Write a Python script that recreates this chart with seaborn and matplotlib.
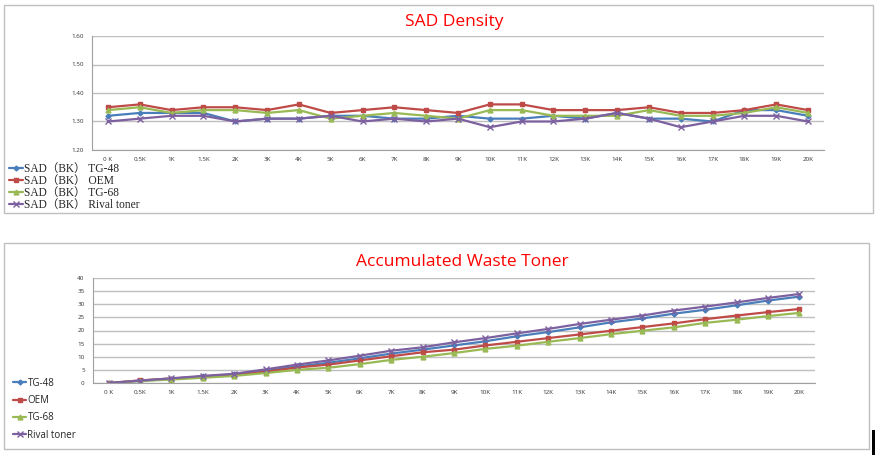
import numpy as np
import pandas as pd
import seaborn as sns
import matplotlib.pyplot as plt
from matplotlib.patches import Rectangle
from matplotlib.ticker import FixedLocator
from matplotlib.font_manager import FontProperties

# Data
pages = ["0 K", "0.5K", "1K", "1.5K", "2K", "3K", "4K", "5K", "6K", "7K", "8K", "9K",
         "10K", "11K", "12K", "13K", "14K", "15K", "16K", "17K", "18K", "19K", "20K"]

sad_tg48 = [1.32, 1.33, 1.33, 1.33, 1.30, 1.31, 1.31, 1.32, 1.32, 1.31, 1.31, 1.32,
            1.31, 1.31, 1.32, 1.31, 1.33, 1.31, 1.31, 1.30, 1.34, 1.34, 1.32]
sad_oem = [1.35, 1.36, 1.34, 1.35, 1.35, 1.34, 1.36, 1.33, 1.34, 1.35, 1.34, 1.33,
           1.36, 1.36, 1.34, 1.34, 1.34, 1.35, 1.33, 1.33, 1.34, 1.36, 1.34]
sad_tg68 = [1.34, 1.35, 1.33, 1.34, 1.34, 1.33, 1.34, 1.31, 1.32, 1.33, 1.32, 1.31,
            1.34, 1.34, 1.32, 1.32, 1.32, 1.34, 1.32, 1.32, 1.33, 1.35, 1.33]
sad_rival = [1.30, 1.31, 1.32, 1.32, 1.30, 1.31, 1.31, 1.32, 1.30, 1.31, 1.30, 1.31,
             1.28, 1.30, 1.30, 1.31, 1.33, 1.31, 1.28, 1.30, 1.32, 1.32, 1.30]

waste_tg48 = [0, 0.8, 1.6, 2.5, 3.3, 4.6, 6.3, 7.7, 9.4, 11.2, 12.7, 14.3,
              15.9, 17.8, 19.4, 21.2, 23.1, 24.6, 26.4, 27.9, 29.6, 31.4, 32.9]
waste_oem = [0, 1.0, 1.7, 2.4, 3.2, 4.3, 5.9, 7.0, 8.6, 10.2, 11.7, 12.7,
             14.3, 15.7, 17.1, 18.5, 19.9, 21.3, 22.7, 24.3, 25.7, 27.0, 28.2]
waste_tg68 = [0, 0.8, 1.3, 2.0, 2.7, 3.8, 5.0, 5.8, 7.2, 8.8, 10.0, 11.4,
              13.0, 14.2, 15.7, 17.1, 18.6, 19.9, 21.2, 22.9, 24.1, 25.5, 26.7]
waste_rival = [0, 0.9, 1.8, 2.7, 3.5, 5.2, 7.0, 8.6, 10.4, 12.3, 13.6, 15.5,
               17.1, 18.9, 20.6, 22.5, 24.1, 25.7, 27.6, 29.1, 30.7, 32.4, 33.9]

sad_labels = ["SAD（BK） TG-48", "SAD（BK） OEM", "SAD（BK） TG-68", "SAD（BK） Rival toner"]
waste_labels = ["TG-48", "OEM", "TG-68", "Rival toner"]

colors = ["#4A7EBB", "#BE4B48", "#98B954", "#7D60A0"]
markers = ["D", "s", "^", "x"]
msizes = [2.5, 3.5, 3.5, 4]

sns.set_style("white")
plt.rcParams['font.family'] = ['Open Sans', 'DejaVu Sans']

fig = plt.figure(figsize=(8.76, 4.55), dpi=100)

# chart frames
fig.patches.append(Rectangle((4 / 876, 1 - 213 / 455), 869 / 876, 208 / 455,
                             transform=fig.transFigure, fill=False, ec="#BFBFBF", lw=1))
fig.patches.append(Rectangle((4 / 876, 1 - 449 / 455), 865 / 876, 206 / 455,
                             transform=fig.transFigure, fill=False, ec="#BFBFBF", lw=1))
# dark edge at the bottom right of the screenshot
fig.patches.append(Rectangle((872 / 876, 0), 3 / 876, 25 / 455,
                             transform=fig.transFigure, color="black", lw=0))

ax1 = fig.add_axes([92 / 876, 1 - 150 / 455, 732 / 876, 114 / 455])
ax2 = fig.add_axes([93 / 876, 1 - 383 / 455, 722 / 876, 105 / 455])


def draw(ax, series, labels):
    x = np.arange(len(pages))
    for vals, lab, c, m, ms in zip(series, labels, colors, markers, msizes):
        df = pd.DataFrame({"pos": x, "val": vals})
        sns.lineplot(data=df, x="pos", y="val", ax=ax, color=c, marker=m,
                     markersize=ms, markeredgecolor=c, markeredgewidth=1,
                     linewidth=1.6, label=lab)
    ax.set_xlim(-0.5, len(pages) - 0.5)
    ax.set_xticks(x)
    ax.set_xticklabels(pages, fontsize=4.5, color="#333333")
    ax.xaxis.set_minor_locator(FixedLocator(np.arange(-0.5, len(pages), 1)))
    ax.tick_params(axis="x", which="major", length=0, pad=5)
    ax.tick_params(axis="x", which="minor", length=3, color="#A0A0A0", width=0.8)
    ax.tick_params(axis="y", labelsize=4.5, labelcolor="#333333", length=3,
                   color="#A0A0A0", width=0.8, pad=3)
    ax.set_xlabel("")
    ax.set_ylabel("")
    ax.grid(axis="y", color="#BFBFBF", lw=1)
    for s in ["top", "right"]:
        ax.spines[s].set_visible(False)
    for s in ["left", "bottom"]:
        ax.spines[s].set_color("#A0A0A0")
        ax.spines[s].set_linewidth(0.8)


draw(ax1, [sad_tg48, sad_oem, sad_tg68, sad_rival], sad_labels)
ax1.set_ylim(1.2, 1.6)
ax1.set_yticks([1.2, 1.3, 1.4, 1.5, 1.6])
ax1.set_yticklabels(["1.20", "1.30", "1.40", "1.50", "1.60"])

draw(ax2, [waste_tg48, waste_oem, waste_tg68, waste_rival], waste_labels)
ax2.set_ylim(0, 40)
ax2.set_yticks(range(0, 41, 5))

# legends at lower left of each chart
h1, l1 = ax1.get_legend_handles_labels()
ax1.legend(h1, l1, loc="upper left", bbox_to_anchor=(3 / 876, 1 - 157 / 455),
           bbox_transform=fig.transFigure, frameon=False, handlelength=1.25,
           handletextpad=0.1, labelspacing=0.0, borderpad=0,
           prop=FontProperties(family=["Liberation Serif", "Noto Sans CJK SC"], size=8.3))
h2, l2 = ax2.get_legend_handles_labels()
ax2.legend(h2, l2, loc="upper left", bbox_to_anchor=(8 / 876, 1 - 373 / 455),
           bbox_transform=fig.transFigure, frameon=False, handlelength=1.4,
           handletextpad=0.1, labelspacing=0.65, borderpad=0,
           prop=FontProperties(family=["Open Sans"], size=7))

fig.text(454 / 876, 1 - 22 / 455, "SAD Density", color="#FF0000", fontsize=12.5,
         ha="center", va="center")
fig.text(462 / 876, 1 - 262 / 455, "Accumulated Waste Toner", color="#FF0000",
         fontsize=12.5, ha="center", va="center")

fig.savefig("out.png", dpi=100)
